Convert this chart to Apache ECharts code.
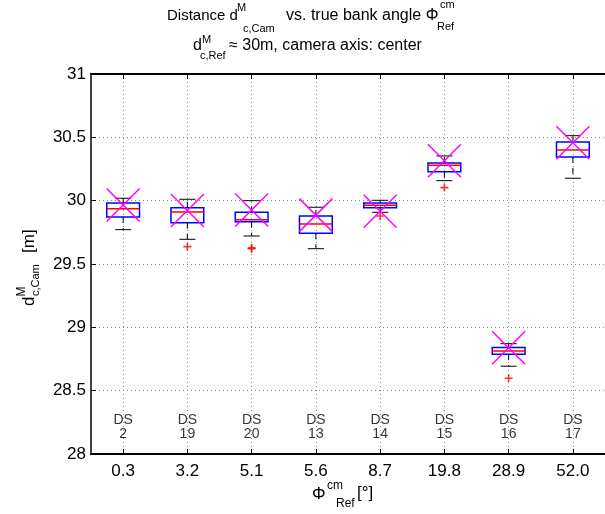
<!DOCTYPE html>
<html>
<head>
<meta charset="utf-8">
<script src="https://cdn.jsdelivr.net/npm/echarts@6/dist/echarts.min.js"></script>
<style>html,body{margin:0;padding:0;background:#fff;}#chart{width:605px;height:514px;}</style>
</head>
<body>
<div id="chart"></div>
<script>
// ---- data ----
const categories = ['0.3', '3.2', '5.1', '5.6', '8.7', '19.8', '28.9', '52.0'];
const dsNumbers = ['2', '19', '20', '13', '14', '15', '16', '17'];
const whiskerLow  = [29.771, 29.695, 29.721, 29.621, 29.908, 30.158, 28.693, 30.177];
const q1          = [29.871, 29.826, 29.834, 29.742, 29.945, 30.229, 28.788, 30.345];
const medians     = [29.937, 29.911, 29.850, 29.816, 29.963, 30.279, 28.814, 30.400];
const q3          = [29.982, 29.945, 29.908, 29.879, 29.982, 30.298, 28.840, 30.463];
const whiskerHigh = [30.019, 30.011, 30.000, 29.948, 30.003, 30.353, 28.871, 30.513];
const means       = [29.966, 29.923, 29.927, 29.886, 29.917, 30.315, 28.839, 30.457];
const outlierCats   = [1, 2, 2, 4, 5, 6];
const outlierValues = [29.637, 29.627, 29.620, 29.879, 30.103, 28.598];
const yMin = 28, yMax = 31, yInterval = 0.5;

const FONT = '"Liberation Sans", Arial, Helvetica, sans-serif';
const chart = echarts.init(document.getElementById('chart'), null, {renderer: 'canvas'});

const boxData = categories.map((c, i) => [i, whiskerLow[i], q1[i], medians[i], q3[i], whiskerHigh[i]]);
const meanData = categories.map((c, i) => [i, means[i]]);
const outlierData = outlierCats.map((c, i) => [c, outlierValues[i]]);
const dsData = categories.map((c, i) => [i, 28.21]);

function txt(text, x, y, size, extra) {
  return Object.assign({
    type: 'text', x: x, y: y, silent: true,
    style: {text: text, fontSize: size, fontFamily: FONT, fill: '#000',
            textAlign: 'left', textVerticalAlign: 'middle', align: 'left', verticalAlign: 'middle'}
  }, extra || {});
}

const option = {
  animation: false,
  backgroundColor: '#fff',
  grid: {left: 91, top: 74, width: 520, height: 380, containLabel: false},
  xAxis: [{
    type: 'category', data: categories, position: 'bottom',
    axisLine: {lineStyle: {color: '#000', width: 2}},
    axisTick: {show: true, inside: true, length: 5, alignWithLabel: true, lineStyle: {color: '#000'}},
    axisLabel: {fontSize: 17, color: '#000', fontFamily: FONT, margin: 9},
    splitLine: {show: true, alignWithLabel: true, lineStyle: {color: '#888', type: [1, 3]}}
  }, {
    type: 'category', data: categories, position: 'top',
    axisLine: {lineStyle: {color: '#000', width: 2}},
    axisTick: {show: true, inside: true, length: 5, alignWithLabel: true, lineStyle: {color: '#000'}},
    axisLabel: {show: false}, splitLine: {show: false}
  }],
  yAxis: {
    type: 'value', min: yMin, max: yMax, interval: yInterval,
    axisLine: {show: true, lineStyle: {color: '#000', width: 1.5}},
    axisTick: {show: true, inside: true, length: 5, lineStyle: {color: '#000'}},
    axisLabel: {fontSize: 17, color: '#000', fontFamily: FONT, margin: 5},
    splitLine: {show: true, lineStyle: {color: '#888', type: [1, 3]}}
  },
  series: [{
    type: 'custom', xAxisIndex: 0, data: boxData,
    encode: {x: 0, y: [1, 2, 3, 4, 5]},
    renderItem: function (params, api) {
      const x = api.value(0);
      const band = api.size([1, 0])[0];
      const hw = band * 0.255, cw = band * 0.125;
      const pLo = api.coord([x, api.value(1)]);
      const pQ1 = api.coord([x, api.value(2)]);
      const pMed = api.coord([x, api.value(3)]);
      const pQ3 = api.coord([x, api.value(4)]);
      const pHi = api.coord([x, api.value(5)]);
      const cx = pMed[0];
      const blk = {stroke: '#000', lineWidth: 1};
      return {type: 'group', children: [
        {type: 'line', shape: {x1: cx, y1: pQ3[1], x2: cx, y2: pHi[1]}, style: Object.assign({lineDash: [6, 5]}, blk)},
        {type: 'line', shape: {x1: cx, y1: pQ1[1], x2: cx, y2: pLo[1]}, style: Object.assign({lineDash: [6, 5]}, blk)},
        {type: 'line', shape: {x1: cx - cw, y1: pHi[1], x2: cx + cw, y2: pHi[1]}, style: blk},
        {type: 'line', shape: {x1: cx - cw, y1: pLo[1], x2: cx + cw, y2: pLo[1]}, style: blk},
        {type: 'rect', shape: {x: cx - hw, y: pQ3[1], width: 2 * hw, height: pQ1[1] - pQ3[1]},
         style: {fill: 'none', stroke: '#0000ff', lineWidth: 1.5}},
        {type: 'line', shape: {x1: cx - hw, y1: pMed[1], x2: cx + hw, y2: pMed[1]}, style: {stroke: '#ff0000', lineWidth: 1.5}}
      ]};
    },
    z: 3
  }, {
    type: 'scatter', xAxisIndex: 0, data: outlierData,
    symbol: 'path://M4,0H6V4H10V6H6V10H4V6H0V4H4Z', symbolSize: 8,
    itemStyle: {color: '#ff0000'}, silent: true, z: 4
  }, {
    type: 'custom', xAxisIndex: 0, data: meanData,
    encode: {x: 0, y: 1},
    renderItem: function (params, api) {
      const p = api.coord([api.value(0), api.value(1)]);
      const h = 16.5;
      const st = {stroke: '#ff00ff', lineWidth: 1.5};
      return {type: 'group', children: [
        {type: 'line', shape: {x1: p[0] - h, y1: p[1] - h, x2: p[0] + h, y2: p[1] + h}, style: st},
        {type: 'line', shape: {x1: p[0] - h, y1: p[1] + h, x2: p[0] + h, y2: p[1] - h}, style: st}
      ]};
    },
    z: 5
  }, {
    type: 'scatter', xAxisIndex: 0, data: dsData, symbolSize: 0, silent: true,
    label: {show: true, position: 'inside', color: '#000', fontSize: 14, lineHeight: 14, fontFamily: FONT,
            formatter: function (p) { return 'DS\n' + dsNumbers[p.dataIndex]; }}
  }],
  graphic: [
    // title line 1
    txt('Distance d', 167, 16, 15),
    txt('M', 237, 8, 11),
    txt('c,Cam', 243, 28.5, 11),
    txt('vs. true bank angle \u03A6', 286, 16, 16),
    txt('cm', 440, 4.5, 11),
    txt('Ref', 437, 26.5, 11),
    // title line 2
    txt('d', 193, 46, 16),
    txt('M', 202, 40, 11),
    txt('c,Ref', 200, 55.5, 11),
    txt('\u2248 30m, camera axis: center', 229, 46, 16),
    // x axis label
    txt('\u03A6', 312, 494, 17),
    txt('cm', 327, 486, 12),
    txt('Ref', 336, 503.5, 12),
    txt('[\u00B0]', 357, 493, 17),
    // y axis label (rotated)
    {type: 'group', x: 29, y: 309, rotation: Math.PI / 2, silent: true, children: [
      txt('d', 3, 0, 17),
      txt('M', 12.5, -7, 12),
      txt('c,Cam', 13, 7, 11),
      txt('[m]', 56, 0, 17)
    ]}
  ]
};
chart.setOption(option);
</script>
</body>
</html>
